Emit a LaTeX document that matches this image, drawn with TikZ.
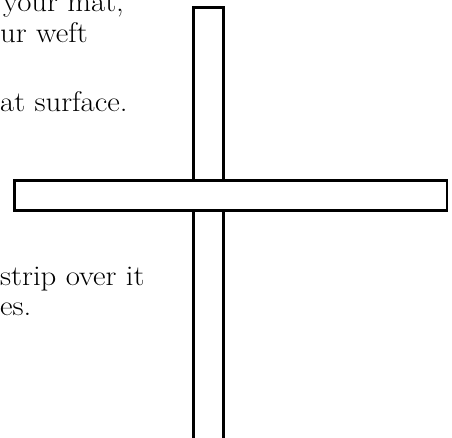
\documentclass[tikz,border=0pt]{standalone}
\usetikzlibrary{positioning}
\newcommand\widetext[1]{\scalebox{1.08}[1]{#1}}

\begin{document}
\begin{tikzpicture}[
  x=1pt,
  y=-1pt,
  line join=miter,
  strip/.style={draw=black,line width=2.2pt,fill=white},
  caption/.style={font=\fontsize{28.5}{31}\selectfont,inner sep=0pt,anchor=base west}
]
  \useasboundingbox (0,0) rectangle (452,438);
  \clip (0,0) rectangle (452,438);

  % Cut-off text on the left edge of the page.
  \node[caption] (matline) at (3,12) {\widetext{your mat,}};
  \node[caption] (weftline) at (0,43) {\widetext{ur weft}};
  \node[caption] (surfline) at (0,112) {\widetext{at surface.}};
  \node[caption] (overline) at (0,285) {\widetext{strip over it}};
  \node[caption] (endline) at (0,315) {\widetext{es.}};

  % Warp strip running off the bottom, weft strip laid over it.
  \coordinate (warpbl) at (193.5,445);
  \coordinate (warptl) at (193.5,7.5);
  \coordinate (warptr) at (223.5,7.5);
  \coordinate (warpbr) at (223.5,445);
  \draw[strip] (warpbl) -- (warptl) -- (warptr) -- (warpbr);
  \draw[strip] (14.5,180.5) rectangle (447,210.5);
\end{tikzpicture}
\end{document}
